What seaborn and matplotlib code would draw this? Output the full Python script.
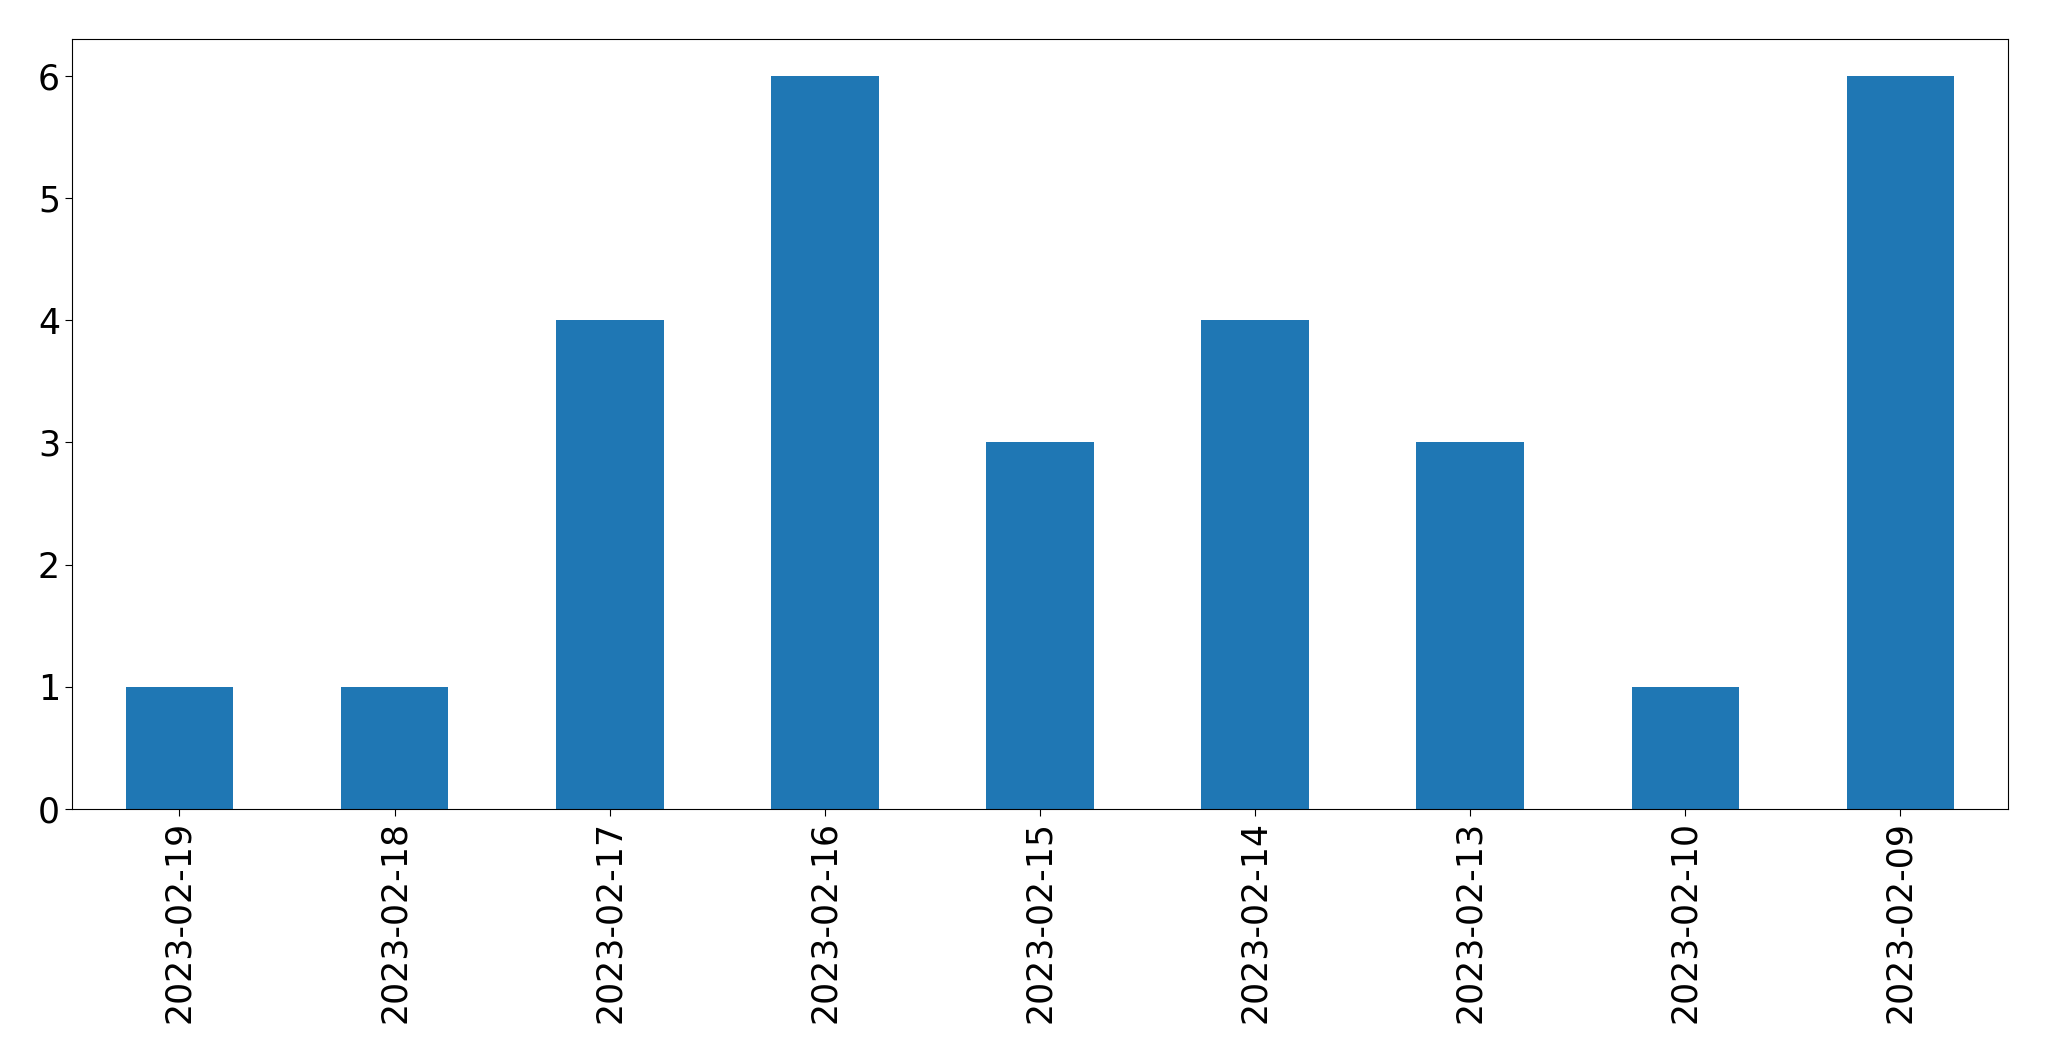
import pandas as pd
import seaborn as sns
import matplotlib
matplotlib.use("Agg")
import matplotlib.pyplot as plt

# counts per day, in the order shown (newest first)
dates = ['2023-02-19', '2023-02-18', '2023-02-17', '2023-02-16', '2023-02-15',
         '2023-02-14', '2023-02-13', '2023-02-10', '2023-02-09']
counts = [1, 1, 4, 6, 3, 4, 3, 1, 6]

data = pd.DataFrame({'date': dates, 'count': counts})

fig, ax = plt.subplots(figsize=(20.49, 10.61), dpi=100)
fig.subplots_adjust(left=0.0351, right=0.980, top=0.963, bottom=0.2375)

sns.barplot(data=data, x='date', y='count', order=dates, color='#1f77b4',
            saturation=1, width=0.5, linewidth=0, ax=ax)

ax.set_xlim(-0.5, len(dates) - 0.5)
ax.set_ylim(0, 6.3)
ax.set_xlabel('')
ax.set_ylabel('')
ax.tick_params(axis='both', labelsize=25, length=5)
plt.setp(ax.get_xticklabels(), rotation=90)

fig.savefig('out.png', dpi=100)
